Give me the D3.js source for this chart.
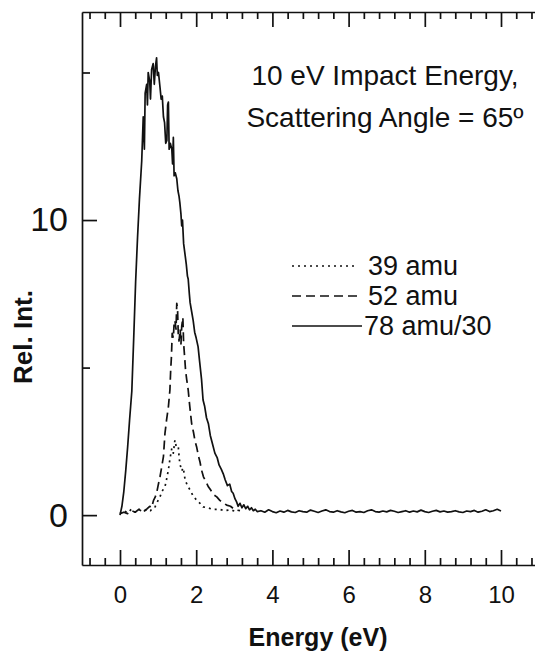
<!DOCTYPE html>
<html>
<head>
<meta charset="utf-8">
<script src="https://cdn.jsdelivr.net/npm/d3@7"></script>
<style>
body { margin: 0; background: #fff; }
text { font-family: "Liberation Sans", Arial, sans-serif; fill: #111; }
</style>
</head>
<body>
<div id="chart"></div>
<script>
// 78 amu signal (divided by 30)
var energy78 = [0.00, 0.05, 0.10, 0.15, 0.20, 0.25, 0.31, 0.36, 0.41, 0.46, 0.51, 0.57, 0.61, 0.64, 0.66, 0.70,
    0.72, 0.74, 0.78, 0.80, 0.83, 0.87, 0.90, 0.93, 0.96, 0.98, 1.01, 1.05, 1.08, 1.11, 1.14, 1.17,
    1.20, 1.23, 1.25, 1.27, 1.29, 1.32, 1.36, 1.38, 1.40, 1.42, 1.45, 1.49, 1.52, 1.55, 1.57, 1.60,
    1.62, 1.64, 1.67, 1.71, 1.74, 1.77, 1.79, 1.82, 1.84, 1.88, 1.92, 1.96, 2.00, 2.05, 2.09, 2.14,
    2.18, 2.22, 2.27, 2.32, 2.37, 2.43, 2.49, 2.55, 2.60, 2.66, 2.71, 2.76, 2.82, 2.88, 2.93, 2.97,
    3.02, 3.06, 3.10, 3.15, 3.20, 3.25, 3.30, 3.35, 3.40, 3.45, 3.50, 3.55, 3.60,
    3.7, 3.8, 3.9, 4.0, 4.1, 4.2, 4.3, 4.4, 4.5, 4.6, 4.7, 4.8, 4.9, 5.0, 5.1, 5.2, 5.3, 5.4, 5.5,
    5.6, 5.7, 5.8, 5.9, 6.0, 6.1, 6.2, 6.3, 6.4, 6.5, 6.6, 6.7, 6.8, 6.9, 7.0, 7.1, 7.2, 7.3, 7.4,
    7.5, 7.6, 7.7, 7.8, 7.9, 8.0, 8.1, 8.2, 8.3, 8.4, 8.5, 8.6, 8.7, 8.8, 8.9, 9.0, 9.1, 9.2, 9.3,
    9.4, 9.5, 9.6, 9.7, 9.8, 9.9, 10.0];
var int78 = [0.0, 0.3, 0.8, 1.5, 2.3, 3.2, 4.2, 6.0, 7.9, 9.4, 10.7, 12.0, 13.5, 12.4, 14.3, 14.6,
    13.9, 15.0, 14.7, 14.1, 15.1, 15.3, 14.6, 15.2, 15.5, 14.9, 15.0, 14.5, 14.1, 14.2, 13.5, 13.3,
    12.6, 12.7, 13.9, 14.0, 12.4, 12.6, 12.4, 11.9, 12.8, 11.5, 11.6, 11.4, 11.0, 10.8, 10.6, 10.2,
    9.8, 10.0, 9.2, 8.8, 8.5, 8.1, 8.0, 7.5, 7.2, 6.9, 6.6, 6.2, 6.0, 5.7, 5.2, 4.6,
    3.9, 3.7, 3.3, 3.1, 2.7, 2.4, 2.1, 1.95, 1.7, 1.55, 1.4, 1.2, 1.0, 1.05, 0.8, 0.74,
    0.55, 0.45, 0.3, 0.4, 0.25, 0.35, 0.22, 0.3, 0.18, 0.25, 0.15, 0.2, 0.12,
    0.15, 0.10, 0.18, 0.12, 0.08, 0.14, 0.10, 0.16, 0.11, 0.09, 0.15, 0.12, 0.10, 0.17, 0.13, 0.09, 0.14, 0.18, 0.12,
    0.10, 0.15, 0.11, 0.08, 0.13, 0.16, 0.10, 0.12, 0.09, 0.15, 0.18, 0.12, 0.10, 0.14, 0.11, 0.16, 0.13, 0.09, 0.12,
    0.15, 0.10, 0.14, 0.11, 0.17, 0.12, 0.09, 0.13, 0.16, 0.11, 0.14, 0.10, 0.12, 0.15, 0.11, 0.09, 0.14, 0.12, 0.16,
    0.10, 0.13, 0.18, 0.12, 0.15, 0.20, 0.14];

// 52 amu signal
var energy52 = [0.00, 0.10, 0.20, 0.30, 0.40, 0.50, 0.60, 0.70, 0.78, 0.83, 0.88, 0.92, 0.96, 1.00, 1.05, 1.09,
    1.14, 1.18, 1.22, 1.27, 1.31, 1.33, 1.35, 1.37, 1.40, 1.42, 1.44, 1.47, 1.49, 1.51, 1.53, 1.55,
    1.58, 1.60, 1.62, 1.65, 1.67, 1.70, 1.72, 1.75, 1.79, 1.83, 1.88, 1.93, 1.97, 2.01, 2.06, 2.10,
    2.14, 2.19, 2.25, 2.32, 2.38, 2.45, 2.54, 2.62, 2.70, 2.80, 2.90, 3.00, 3.06, 3.15];
var int52 = [0.05, 0.10, 0.05, 0.15, 0.10, 0.20, 0.10, 0.20, 0.30, 0.25, 0.50, 0.60, 0.74, 1.0, 1.3, 1.6,
    1.98, 2.77, 3.2, 3.67, 4.24, 4.9, 5.37, 6.16, 6.0, 6.5, 6.6, 6.3, 7.18, 7.0, 6.1, 5.9,
    6.3, 5.8, 6.4, 6.7, 5.82, 5.3, 4.92, 4.6, 4.24, 3.7, 3.11, 2.8, 2.5, 2.32, 2.0, 1.8,
    1.53, 1.3, 1.15, 0.96, 0.85, 0.7, 0.62, 0.5, 0.42, 0.34, 0.3, 0.2, 0.17, 0.15];

// 39 amu signal
var energy39 = [0.00, 0.10, 0.20, 0.30, 0.40, 0.50, 0.60, 0.70, 0.80, 0.86, 0.92, 0.98, 1.05, 1.10, 1.18, 1.22,
    1.27, 1.31, 1.36, 1.40, 1.44, 1.48, 1.53, 1.55, 1.57, 1.62, 1.66, 1.71, 1.77, 1.84, 1.92, 2.01,
    2.10, 2.18, 2.30, 2.45, 2.60, 2.75, 2.90, 3.05];
var int39 = [0.05, 0.15, 0.08, 0.20, 0.10, 0.18, 0.12, 0.20, 0.15, 0.25, 0.28, 0.45, 0.62, 0.80, 0.96, 1.2,
    1.53, 1.9, 2.26, 2.1, 2.54, 2.3, 2.32, 2.0, 1.75, 1.5, 1.6, 1.19, 1.0, 0.85, 0.65, 0.51,
    0.40, 0.28, 0.25, 0.19, 0.20, 0.15, 0.18, 0.12];

var xMajor = [0, 2, 4, 6, 8, 10];
var yMajor = [0, 10];
var yMinor = [5, 15];
var seriesNames = ["39 amu", "52 amu", "78 amu/30"];
var titleLines = ["10 eV Impact Energy,", "Scattering Angle = 65\u00ba"];

var width = 535, height = 655;

var svg = d3.select("#chart")
    .append("svg")
    .attr("width", width)
    .attr("height", height)
    .style("display", "block")
    .style("background", "#fff");

var x = d3.scaleLinear().domain([-1, 11]).range([81.9, 539.1]);
var y = d3.scaleLinear().domain([-1.69, 17.05]).range([565, 12]);

// minor tick positions every 0.4 eV
var xMinor = d3.range(-2, 28).filter(function(i) { return i % 5 !== 0; }).map(function(i) { return i * 0.4; });

function styleAxis(g) {
    g.selectAll("path, line").attr("stroke", "#111").attr("stroke-width", 1.7);
}

// bottom axis
svg.append("g")
    .attr("transform", "translate(0,565)")
    .call(d3.axisBottom(x).tickValues(xMajor).tickSizeInner(-15).tickSizeOuter(0).tickPadding(21).tickFormat(d3.format("d")))
    .call(styleAxis)
    .selectAll("text")
    .style("font-size", "24px")
    .attr("fill", "#111");

svg.append("g")
    .attr("transform", "translate(0,565)")
    .call(d3.axisBottom(x).tickValues(xMinor).tickSizeInner(-7).tickSizeOuter(0).tickFormat(""))
    .call(styleAxis)
    .select(".domain").remove();

// top axis
svg.append("g")
    .attr("transform", "translate(0,12)")
    .call(d3.axisTop(x).tickValues(xMajor).tickSizeInner(-15).tickSizeOuter(0).tickFormat(""))
    .call(styleAxis);

svg.append("g")
    .attr("transform", "translate(0,12)")
    .call(d3.axisTop(x).tickValues(xMinor).tickSizeInner(-7).tickSizeOuter(0).tickFormat(""))
    .call(styleAxis)
    .select(".domain").remove();

// left axis
svg.append("g")
    .attr("transform", "translate(82,0)")
    .call(d3.axisLeft(y).tickValues(yMajor).tickSizeInner(-15).tickSizeOuter(0).tickPadding(14).tickFormat(d3.format("d")))
    .call(styleAxis)
    .selectAll("text")
    .style("font-size", "34px")
    .attr("fill", "#111");

svg.append("g")
    .attr("transform", "translate(82,0)")
    .call(d3.axisLeft(y).tickValues(yMinor).tickSizeInner(-8).tickSizeOuter(0).tickFormat(""))
    .call(styleAxis)
    .select(".domain").remove();

// axis titles
svg.append("text")
    .attr("x", 318)
    .attr("y", 646)
    .attr("text-anchor", "middle")
    .style("font-size", "25px")
    .style("font-weight", "bold")
    .text("Energy (eV)");

svg.append("text")
    .attr("transform", "translate(32,337) rotate(-90)")
    .attr("text-anchor", "middle")
    .style("font-size", "26px")
    .style("font-weight", "bold")
    .text("Rel. Int.");

// curves
function toPoints(es, vs) {
    return es.map(function(e, i) { return [e, vs[i]]; });
}

var line = d3.line()
    .x(function(d) { return x(d[0]); })
    .y(function(d) { return y(d[1]); });

var dashes = ["2,4", "9,5", null];
var series = [toPoints(energy39, int39), toPoints(energy52, int52), toPoints(energy78, int78)];

series.forEach(function(pts, i) {
    svg.append("path")
        .datum(pts)
        .attr("d", line)
        .attr("fill", "none")
        .attr("stroke", "#111")
        .attr("stroke-width", 1.7)
        .attr("stroke-linejoin", "round")
        .attr("stroke-dasharray", dashes[i]);
});

// title
titleLines.forEach(function(t, i) {
    svg.append("text")
        .attr("x", 385)
        .attr("y", 85 + i * 42)
        .attr("text-anchor", "middle")
        .style("font-size", "28px")
        .text(t);
});

// legend
var legendRows = [266, 296, 326];
seriesNames.forEach(function(name, i) {
    svg.append("line")
        .attr("x1", 292)
        .attr("x2", i === 2 ? 362 : 358)
        .attr("y1", legendRows[i])
        .attr("y2", legendRows[i])
        .attr("stroke", "#111")
        .attr("stroke-width", 1.7)
        .attr("stroke-dasharray", dashes[i]);
    svg.append("text")
        .attr("x", i === 2 ? 364 : 368)
        .attr("y", legendRows[i] + 9)
        .style("font-size", "27px")
        .text(name);
});
</script>
</body>
</html>
